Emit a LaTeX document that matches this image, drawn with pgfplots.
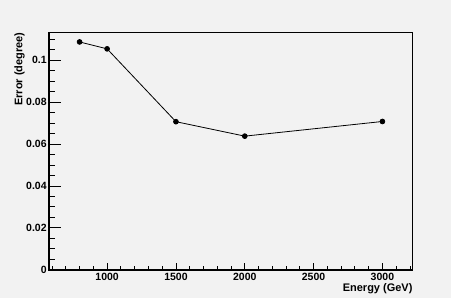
\documentclass[border=0pt]{standalone}
\usepackage{fontspec}
\setmainfont{Liberation Sans}
\usepackage{pgfplots}
\pgfplotsset{compat=1.18}
\definecolor{rootbg}{RGB}{242,242,242}
\begin{document}
\begin{tikzpicture}[x=1pt,y=1pt]
\fill[rootbg] (0,0) rectangle (451,298);
\useasboundingbox (0,0) rectangle (451,298);
\pgfplotsset{common/.style={
  scale only axis, width=363.4pt, height=237.4pt,
  at={(49.3pt,28.3pt)}, anchor=south west,
  xmin=580, xmax=3220, ymin=0, ymax=0.1134,
  axis line style={line width=0.8pt},
  tick style={line width=0.8pt, black},
  tick align=inside, tick pos=left,
  ticklabel style={font=\fontsize{10.5}{12}\selectfont\bfseries},
  label style={font=\fontsize{11}{13}\selectfont\bfseries},
  clip=false
}}
\begin{axis}[common,
  axis background/.style={fill=rootbg},
  xtick={1000,1500,2000,2500,3000},
  xticklabels={1000,1500,2000,2500,3000},
  minor xtick={600,700,...,3200},
  ytick=\empty,
  major tick length=7pt, minor tick length=3.5pt,
  xticklabel style={inner sep=0pt, yshift=-3.5pt},
  xlabel={Energy (GeV)},
  xlabel style={at={(axis description cs:1,-0.0573)}, anchor=north east, inner sep=0pt},
]
\end{axis}
\begin{axis}[common,
  xtick=\empty,
  ytick={0,0.02,0.04,0.06,0.08,0.1},
  yticklabels={0,0.02,0.04,0.06,0.08,0.1},
  minor ytick={0.005,0.01,0.015,0.025,0.03,0.035,0.045,0.05,0.055,0.065,0.07,0.075,0.085,0.09,0.095,0.105,0.11},
  major tick length=11.5pt, minor tick length=5.7pt,
  yticklabel style={inner sep=0pt, xshift=-2.5pt},
  ylabel={Error (degree)},
  ylabel style={at={(axis description cs:-0.0674,1)}, anchor=south east, inner sep=0pt},
]
\addplot[black, line width=0.8pt, mark=*, mark size=2.4pt] coordinates {
  (800,0.1088) (1000,0.1055) (1500,0.0707) (2000,0.0638) (3000,0.0708)};
\draw[line width=1.6pt] (rel axis cs:0,1) -- (rel axis cs:0,0) -- (rel axis cs:1,0);
\end{axis}
\end{tikzpicture}
\end{document}
